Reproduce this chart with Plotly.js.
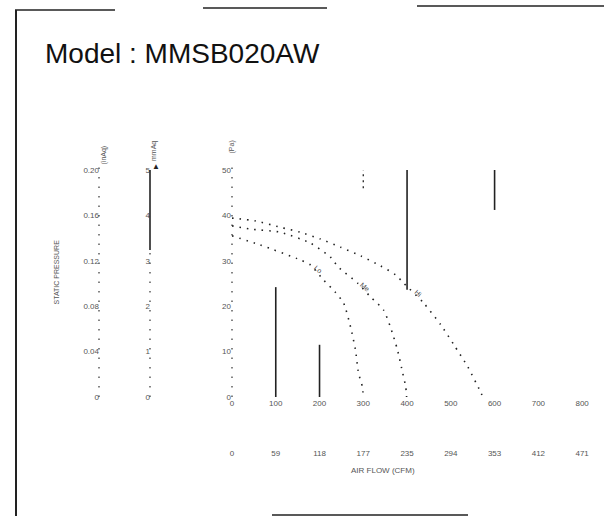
<!DOCTYPE html>
<html><head><meta charset="utf-8">
<script src="https://cdn.plot.ly/plotly-3.0.1.min.js"></script>
<style>html,body{margin:0;padding:0;background:#fff}#chart{width:604px;height:516px}</style>
</head><body><div id="chart"></div>
<script>
// ---- data ----
const flowTicks = [0, 100, 200, 300, 400, 500, 600, 700, 800];
const flowLabels = ["0", "100", "200", "300", "400", "500", "600", "700", "800"];
const cfmLabels = ["0", "59", "118", "177", "235", "294", "353", "412", "471"];
const paTicks = [0, 10, 20, 30, 40, 50];
const mmaqTicks = [0, 1, 2, 3, 4, 5];
const inaqTicks = [0, 0.04, 0.08, 0.12, 0.16, 0.2];
const inaqLabels = ["0", "0.04", "0.08", "0.12", "0.16", "0.20"];

const hiFlow = [0, 53, 110, 156, 202, 248, 294, 339, 374, 392, 438, 477, 507, 539, 569, 573];
const hiPa   = [39.4, 38.8, 37.4, 36.3, 34.8, 33.0, 31.1, 28.9, 26.9, 25.1, 20.7, 15.9, 11.5, 6.6, 0.9, 0];
const meFlow = [0, 41, 110, 179, 225, 243, 287, 317, 346, 362, 378, 390, 397, 399];
const mePa   = [37.7, 37.0, 36.3, 33.9, 30.8, 28.6, 25.1, 22.0, 19.2, 15.4, 10.4, 5.3, 2.2, 0];
const loFlow = [0, 64, 156, 179, 209, 236, 255, 271, 282, 289, 298, 300];
const loPa   = [35.5, 33.5, 30.2, 29.1, 25.8, 23.1, 20.7, 15.4, 10.4, 5.3, 2.2, 0];
const curveNames = ["Hi", "Me", "Lo"];

// faint grid fragments visible in the scan (flow value, pressure from, pressure to, solid?)
const fragFlow  = [100, 200, 300, 400, 600];
const fragFrom  = [0, 0, 46, 23.6, 41.2];
const fragTo    = [24.2, 11.5, 50, 50, 50];
const fragSolid = [true, true, false, true, true];

// ---- helpers ----
const W = 604, H = 516;
const px = v => v / W;
const py = v => 1 - v / H;
const tickFont = {family: "Liberation Sans, Arial, sans-serif", size: 8, color: "#555"};

const curveStyle = {color: "#222", width: 1.6, dash: "1.5px,6px", shape: "spline", smoothing: 0.6};
const traces = [
  {x: hiFlow, y: hiPa, name: curveNames[0]},
  {x: meFlow, y: mePa, name: curveNames[1]},
  {x: loFlow, y: loPa, name: curveNames[2]}
].map(t => Object.assign(t, {type: "scatter", mode: "lines", line: curveStyle, hoverinfo: "skip", xaxis: "x", yaxis: "y"}));

// helper traces to register the extra axes
traces.push({type: "scatter", mode: "markers", x: [0], y: [0], xaxis: "x2", yaxis: "y", marker: {opacity: 0}, hoverinfo: "skip"});
traces.push({type: "scatter", mode: "markers", x: [0], y: [0], xaxis: "x", yaxis: "y2", marker: {opacity: 0}, hoverinfo: "skip"});
traces.push({type: "scatter", mode: "markers", x: [0], y: [0], xaxis: "x", yaxis: "y3", marker: {opacity: 0}, hoverinfo: "skip"});

const axBase = {showgrid: false, zeroline: false, showline: false, ticks: "", tickfont: tickFont, fixedrange: true};

const shapes = [];
// page frame fragments
const frameLine = (x0, y0, x1, y1, w) => ({type: "line", xref: "paper", yref: "paper", x0: px(x0), y0: py(y0), x1: px(x1), y1: py(y1), line: {color: "#222", width: w || 1.5}});
shapes.push(frameLine(15, 10, 115, 10));
shapes.push(frameLine(203, 8, 327, 8));
shapes.push(frameLine(417, 6, 604, 6));
shapes.push(frameLine(16, 10, 16, 516, 2));
shapes.push(frameLine(272, 515, 468, 515));
// axis lines (dotted), with partial solid part at mmAq axis
const dotted = {color: "#333", width: 1.2, dash: "1.5px,8px"};
shapes.push({type: "line", xref: "paper", yref: "paper", x0: px(232), x1: px(232), y0: py(397), y1: py(160), line: dotted});
shapes.push({type: "line", xref: "paper", yref: "paper", x0: px(99), x1: px(99), y0: py(397), y1: py(160), line: dotted});
shapes.push({type: "line", xref: "paper", yref: "paper", x0: px(150), x1: px(150), y0: py(397), y1: py(250), line: dotted});
shapes.push({type: "line", xref: "paper", yref: "paper", x0: px(150), x1: px(150), y0: py(250), y1: py(170), line: {color: "#222", width: 1.6}});
// grid fragments
fragFlow.forEach((f, i) => shapes.push({type: "line", xref: "x", yref: "y", x0: f, x1: f, y0: fragFrom[i], y1: fragTo[i],
  line: fragSolid[i] ? {color: "#222", width: 1.6} : {color: "#333", width: 1.4, dash: "2px,4px"}}));

const ann = [];
ann.push({xref: "paper", yref: "paper", x: px(43), y: py(54), xanchor: "left", yanchor: "middle", showarrow: false,
  text: "Model : MMSB020AW", font: {family: "Liberation Sans, Arial, sans-serif", size: 28, color: "#111"}});
const vText = (x, y, t) => ({xref: "paper", yref: "paper", x: px(x), y: py(y), showarrow: false, textangle: -90, text: t, font: {family: "Liberation Sans, Arial, sans-serif", size: 7, color: "#555"}});
ann.push(vText(97, 143, "(inAq)"));
ann.push(vText(148, 139, "mmAq"));
ann.push(vText(231, 139, "(Pa)"));
ann.push(vText(50, 272, "STATIC PRESSURE"));
ann.push({xref: "paper", yref: "paper", x: px(150), y: py(158), showarrow: false, text: "▲", font: {size: 8, color: "#222"}});
ann.push({xref: "paper", yref: "paper", x: px(383), y: py(477), showarrow: false, text: "AIR FLOW (CFM)", font: {family: "Liberation Sans, Arial, sans-serif", size: 8, color: "#555"}});
// curve labels, placed on their curves
const labelIdx = [10, 7, 4];
[[hiFlow, hiPa], [meFlow, mePa], [loFlow, loPa]].forEach((c, i) => {
  ann.push({xref: "x", yref: "y", x: c[0][labelIdx[i]] - 12, y: c[1][labelIdx[i]] + 2.2, showarrow: false, textangle: 40,
    text: curveNames[i], font: {family: "Liberation Sans, Arial, sans-serif", size: 7, color: "#444"}});
});

const layout = {
  width: W, height: H, margin: {l: 0, r: 0, t: 0, b: 0},
  paper_bgcolor: "#fff", plot_bgcolor: "rgba(0,0,0,0)", showlegend: false,
  xaxis: Object.assign({}, axBase, {domain: [px(232), 1], range: [0, 850], tickvals: flowTicks, ticktext: flowLabels, anchor: "y"}),
  xaxis2: Object.assign({}, axBase, {overlaying: "x", anchor: "free", position: py(447), range: [0, 850], tickvals: flowTicks, ticktext: cfmLabels, side: "bottom"}),
  yaxis: Object.assign({}, axBase, {domain: [py(397), py(170)], range: [0, 50], tickvals: paTicks, anchor: "x"}),
  yaxis2: Object.assign({}, axBase, {overlaying: "y", anchor: "free", position: px(150), range: [0, 5], tickvals: mmaqTicks, side: "left"}),
  yaxis3: Object.assign({}, axBase, {overlaying: "y", anchor: "free", position: px(99), range: [0, 0.2], tickvals: inaqTicks, ticktext: inaqLabels, side: "left"}),
  shapes: shapes, annotations: ann
};
Plotly.newPlot("chart", traces, layout, {displayModeBar: false, staticPlot: true});
</script></body></html>
